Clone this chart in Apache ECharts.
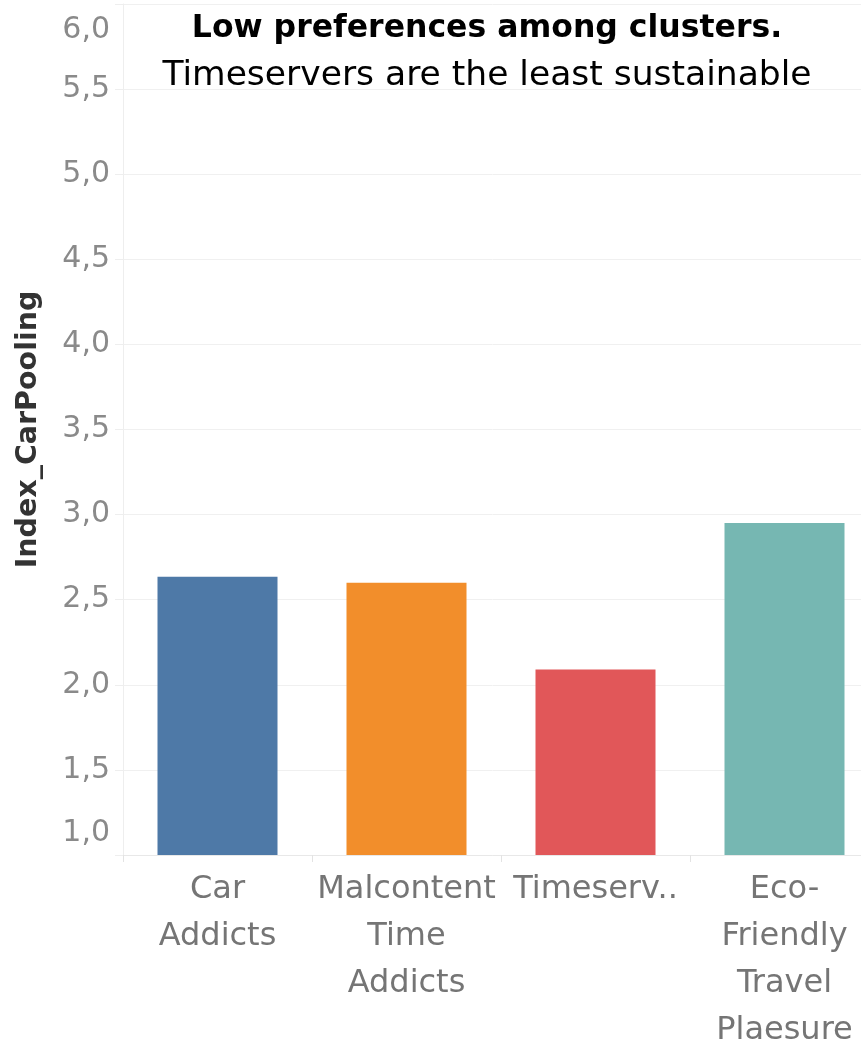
<!DOCTYPE html>
<html>
<head>
<meta charset="utf-8">
<script src="https://cdn.jsdelivr.net/npm/echarts@6/dist/echarts.min.js"></script>
<style>
  html, body { margin: 0; padding: 0; background: #fff; }
  #chart { width: 861px; height: 1042px; }
</style>
</head>
<body>
<div id="chart"></div>
<script>
// Cluster names, their wrapped tick labels and the mean car-pooling index per cluster
const clusters = ['Car Addicts', 'Malcontent Time Addicts', 'Timeservers', 'Eco-Friendly Travel Plaesure'];
const tickLabels = ['Car\nAddicts', 'Malcontent\nTime\nAddicts', 'Timeserv..', 'Eco-\nFriendly\nTravel\nPlaesure'];
const carPoolingIndex = [2.635, 2.60, 2.09, 2.95];
const barColors = ['#4e79a7', '#f28e2b', '#e15759', '#76b7b2'];

const yMin = 1.0, yMax = 6.0, yStep = 0.5;

const chart = echarts.init(document.getElementById('chart'), null, { renderer: 'canvas' });

const fmtComma = v => v.toFixed(1).replace('.', ',');
const labelFont = 'DejaVu Sans';

chart.setOption({
  animation: false,
  title: {
    text: 'Low preferences among clusters.',
    subtext: 'Timeservers are the least sustainable',
    left: 482,
    textAlign: 'center',
    top: 4,
    itemGap: 6,
    textStyle: { fontFamily: 'DejaVu Sans', fontWeight: 'bold', fontSize: 31.5, color: '#000', lineHeight: 40 },
    subtextStyle: { fontFamily: 'DejaVu Sans', fontWeight: 'normal', fontSize: 34.5, color: '#000', lineHeight: 42 }
  },
  grid: { left: 123, right: -18, top: 4, bottom: 187, containLabel: false, outerBoundsMode: 'none' },
  xAxis: {
    type: 'category',
    data: clusters,
    axisLine: { show: true, lineStyle: { color: '#e8e8e8', width: 1 } },
    axisTick: { show: true, length: 7, lineStyle: { color: '#e3e3e3' } },
    axisLabel: {
      interval: 0,
      margin: 11,
      color: '#757575',
      fontFamily: labelFont,
      fontSize: 32,
      lineHeight: 47,
      formatter: (v, i) => tickLabels[i]
    },
    splitLine: { show: false }
  },
  yAxis: {
    type: 'value',
    min: yMin,
    max: yMax,
    interval: yStep,
    name: 'Index_CarPooling',
    nameLocation: 'middle',
    nameGap: 80,
    nameTextStyle: { fontFamily: 'DejaVu Sans', fontWeight: 'bold', fontSize: 28.5, color: '#333' },
    axisLine: { show: true, lineStyle: { color: '#eeeeee' } },
    axisTick: { show: true, length: 8, lineStyle: { color: '#eeeeee' } },
    axisLabel: {
      margin: 13,
      color: '#8a8a8a',
      fontFamily: labelFont,
      fontSize: 30,
      formatter: v => {
        if (Math.abs(v - yMax) < 1e-9) return '{top|' + fmtComma(v) + '}';
        if (Math.abs(v - yMin) < 1e-9) return '{bot|' + fmtComma(v) + '}';
        return fmtComma(v);
      },
      rich: {
        top: { fontFamily: labelFont, fontSize: 30, color: '#8a8a8a', padding: [52, 0, 0, 0] },
        bot: { fontFamily: labelFont, fontSize: 30, color: '#8a8a8a', padding: [0, 0, 44, 0] }
      }
    },
    splitLine: { show: true, lineStyle: { color: '#f0f0f0', width: 1 } }
  },
  series: [{
    type: 'bar',
    barWidth: 120,
    data: carPoolingIndex.map((v, i) => ({ value: v, itemStyle: { color: barColors[i] } })),
    itemStyle: { borderWidth: 0 }
  }]
});
</script>
</body>
</html>
